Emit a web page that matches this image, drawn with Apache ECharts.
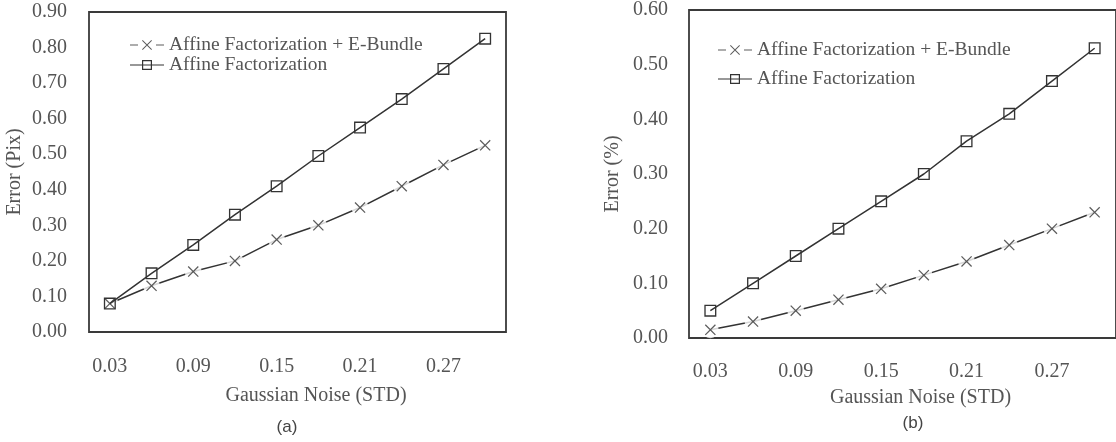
<!DOCTYPE html>
<html>
<head>
<meta charset="utf-8">
<script src="https://cdn.jsdelivr.net/npm/echarts@6/dist/echarts.min.js"></script>
<style>
  html, body { margin: 0; padding: 0; background: #fff; }
  #main { width: 1116px; height: 442px; }
</style>
</head>
<body>
<div id="main"></div>
<script>
// 数据
var noiseLevels = ['0.03', '0.06', '0.09', '0.12', '0.15', '0.18', '0.21', '0.24', '0.27', '0.30'];
// (a) Error (Pix)
var pixAffine = [0.08, 0.165, 0.245, 0.33, 0.41, 0.495, 0.575, 0.655, 0.74, 0.825];
var pixBundle = [0.08, 0.13, 0.17, 0.20, 0.26, 0.30, 0.35, 0.41, 0.47, 0.525];
// (b) Error (%)
var pctAffine = [0.05, 0.10, 0.15, 0.20, 0.25, 0.30, 0.36, 0.41, 0.47, 0.53];
var pctBundle = [0.015, 0.03, 0.05, 0.07, 0.09, 0.115, 0.14, 0.17, 0.20, 0.23];

var nameBundle = 'Affine Factorization + E-Bundle';
var nameAffine = 'Affine Factorization';

var lineColor = '#333';
var textColor = '#555';
var serif = 'Liberation Serif';

// 符号：× 和 空心方框
var crossSymbol = 'path://M0,0.8L0.8,0L10,9.2L9.2,10Z M9.2,0L10,0.8L0.8,10L0,9.2Z';
var boxSymbol = 'path://M0,0H10V10H0Z M1.1,1.1V8.9H8.9V1.1Z';
// 图例图标
var crossIcon = 'path://M0,4.4H8V5.6H0Z M26,4.4H34V5.6H26Z M12,0.7L12.7,0L22,9.3L21.3,10Z M21.3,0L22,0.7L12.7,10L12,9.3Z';
var boxIcon = 'path://M0,4.4H34V5.6H0Z M12,0H22V10H12Z M13.2,1.2V8.8H20.8V1.2Z';

var myChart = echarts.init(document.getElementById('main'));

function makeX(gi, nameGap, shift, margin) {
  return {
    type: 'category',
    gridIndex: gi,
    data: noiseLevels,
    boundaryGap: true,
    name: 'Gaussian Noise (STD)',
    nameLocation: 'middle',
    nameGap: nameGap,
    nameTextStyle: { color: textColor, fontFamily: serif, fontSize: 20, padding: [0, 0, 0, shift] },
    axisLine: { show: false },
    axisTick: { show: false },
    axisLabel: { interval: 1, margin: margin, color: textColor, fontFamily: serif, fontSize: 20 },
    splitLine: { show: false }
  };
}

function makeY(gi, max, title, nameGap, margin) {
  return {
    type: 'value',
    gridIndex: gi,
    min: 0,
    max: max,
    interval: 0.1,
    name: title,
    nameLocation: 'middle',
    nameGap: nameGap,
    nameTextStyle: { color: textColor, fontFamily: serif, fontSize: 20 },
    axisLine: { show: false },
    axisTick: { show: false },
    axisLabel: {
      margin: margin, color: textColor, fontFamily: serif, fontSize: 20,
      padding: [5, 0, 0, 0],
      formatter: function (v) { return v.toFixed(2); }
    },
    splitLine: { show: false }
  };
}

function makeSeries(gi, bundle, affine) {
  return [
    {
      name: 'bundleLine' + gi,
      type: 'line',
      xAxisIndex: gi, yAxisIndex: gi,
      data: bundle,
      symbol: 'none',
      lineStyle: { color: lineColor, width: 1.5 },
      z: 2
    },
    {
      // 白色圆点打断线条，形成 —×— 效果
      name: 'bundleGap' + gi,
      type: 'scatter',
      xAxisIndex: gi, yAxisIndex: gi,
      data: bundle,
      symbol: 'circle',
      symbolSize: 17,
      itemStyle: { color: '#fff' },
      z: 3
    },
    {
      name: nameBundle,
      type: 'scatter',
      xAxisIndex: gi, yAxisIndex: gi,
      data: bundle,
      symbol: crossSymbol,
      symbolSize: 11,
      itemStyle: { color: lineColor },
      z: 4
    },
    {
      name: nameAffine,
      type: 'line',
      xAxisIndex: gi, yAxisIndex: gi,
      data: affine,
      symbol: boxSymbol,
      symbolSize: 12,
      showAllSymbol: true,
      itemStyle: { color: lineColor },
      lineStyle: { color: lineColor, width: 1.5 },
      z: 5
    }
  ];
}

function makeLegend(left, top, gap) {
  return {
    orient: 'vertical',
    left: left,
    top: top,
    itemWidth: 34,
    itemHeight: 10,
    itemGap: gap,
    itemTextGap: 4,
    selectedMode: false,
    textStyle: { color: textColor, fontFamily: serif, fontSize: 19.5, lineHeight: 20 },
    data: [
      { name: nameBundle, icon: crossIcon, itemStyle: { color: lineColor, borderWidth: 0 } },
      { name: nameAffine, icon: boxIcon, itemStyle: { color: lineColor, borderWidth: 0 } }
    ]
  };
}

var option = {
  backgroundColor: '#fff',
  animation: false,
  grid: [
    { left: 89, top: 12, width: 417, height: 320, show: true, borderColor: '#3a3a3a', borderWidth: 1.8 },
    { left: 689, top: 6, width: 428, height: 332, show: true, borderColor: '#3a3a3a', borderWidth: 1.8 }
  ],
  xAxis: [makeX(0, 54, 37, 25), makeX(1, 50, 36, 24)],
  yAxis: [makeY(0, 0.9, 'Error (Pix)', 64, 22), makeY(1, 0.6, 'Error (%)', 66, 21)],
  legend: [makeLegend(125, 30, 0), makeLegend(713, 35, 9)],
  graphic: [
    { type: 'text', x: 287, y: 427, style: { text: '(a)', align: 'center', verticalAlign: 'middle', font: '17px "Liberation Sans"', fill: '#444' } },
    { type: 'text', x: 913, y: 423, style: { text: '(b)', align: 'center', verticalAlign: 'middle', font: '17px "Liberation Sans"', fill: '#444' } }
  ],
  series: makeSeries(0, pixBundle, pixAffine).concat(makeSeries(1, pctBundle, pctAffine))
};

myChart.setOption(option);
window.addEventListener('resize', function () {
  myChart.resize();
});
</script>
</body>
</html>
